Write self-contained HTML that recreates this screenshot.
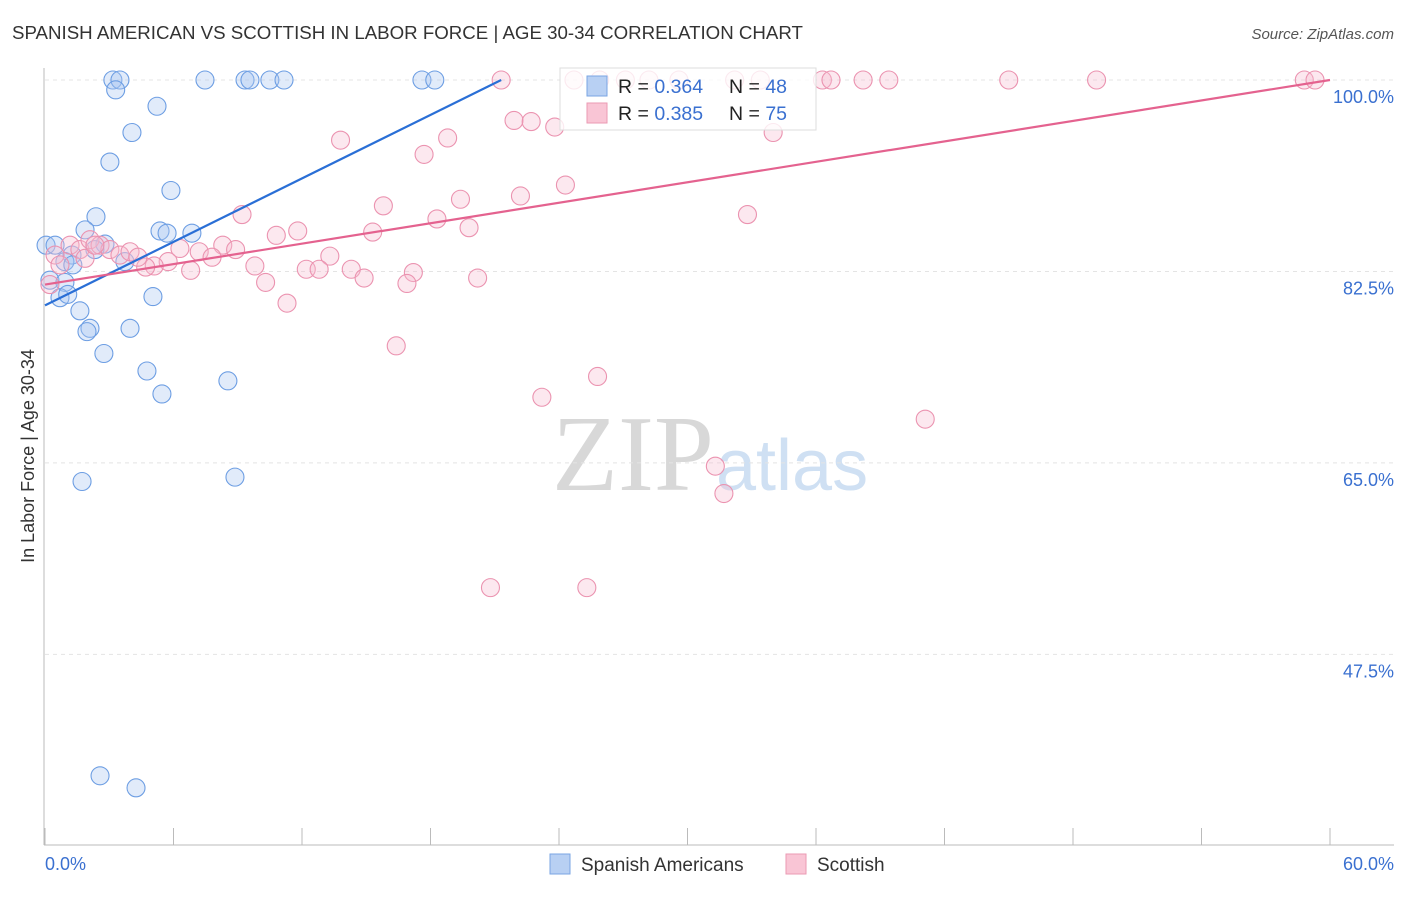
<!DOCTYPE html>
<html><head><meta charset="utf-8"><style>
body{margin:0;background:#fff;font-family:"Liberation Sans",sans-serif}
svg text{font-family:"Liberation Sans",sans-serif}
</style></head><body>
<svg id="c" width="1406" height="892">
<text x="12" y="39" font-size="18.7" fill="#333">SPANISH AMERICAN VS SCOTTISH IN LABOR FORCE | AGE 30-34 CORRELATION CHART</text>
<text x="1394" y="39" font-size="15" fill="#555" font-style="italic" text-anchor="end">Source: ZipAtlas.com</text>
<text x="714" y="490" font-size="108" fill="#d8d8d8" text-anchor="end" style="font-family:'Liberation Serif',serif">ZIP</text>
<text x="716" y="490" font-size="72" fill="#cfe0f3">atlas</text>
<text transform="translate(34,456) rotate(-90)" font-size="18" fill="#333" text-anchor="middle">In Labor Force | Age 30-34</text>
<g id="grid"></g><g id="axes"></g><g id="pts"></g><g id="lines"></g>
<g>
<rect x="560" y="68" width="256" height="62" fill="#fff" fill-opacity="0.8" stroke="#ddd"/>
<rect x="587" y="76" width="20" height="20" fill="#b8d0f3" stroke="#7aa5e3"/>
<rect x="587" y="103" width="20" height="20" fill="#f9c5d5" stroke="#eb9ab3"/>
<text x="618" y="93" font-size="19.5" fill="#222">R = <tspan fill="#3a70d0">0.364</tspan>   <tspan x="729">N = </tspan><tspan fill="#3a70d0">48</tspan></text>
<text x="618" y="120" font-size="19.5" fill="#222">R = <tspan fill="#3a70d0">0.385</tspan>   <tspan x="729">N = </tspan><tspan fill="#3a70d0">75</tspan></text>
</g>
<g>
<rect x="550" y="854" width="20" height="20" fill="#b8d0f3" stroke="#7aa5e3"/>
<text x="581" y="871" font-size="19" fill="#333">Spanish Americans</text>
<rect x="786" y="854" width="20" height="20" fill="#f9c5d5" stroke="#eb9ab3"/>
<text x="817" y="871" font-size="19" fill="#333">Scottish</text>
</g>
</svg>
<script>
const yTicks=[100,82.5,65,47.5];
const xTickLabels=["0.0%","60.0%"];
const blueX=[3.17,3.5,3.3,7.47,9.34,9.57,10.5,11.16,17.6,18.2,5.23,4.06,3.03,5.88,2.38,5.37,5.7,6.86,1.87,0.05,0.47,1.26,2.8,2.33,0.93,1.3,3.73,0.23,0.93,0.7,1.06,5.04,1.63,2.1,1.96,3.97,2.75,4.76,5.46,8.54,1.73,8.87,2.57,4.25];
const blueY=[100,100,99.1,100,100,100,100,100,100,100,97.6,95.2,92.5,89.9,87.5,86.2,86.0,86.0,86.3,84.9,84.9,84.0,85.0,84.5,83.4,83.1,83.4,81.7,81.5,80.1,80.4,80.2,78.9,77.3,77.0,77.3,75.0,73.4,71.3,72.5,63.3,63.7,36.4,35.3];
const pinkX=[21.3,24.7,25.9,27.1,28.2,29.6,32.2,33.4,36.3,36.7,38.2,39.4,45.0,49.1,58.8,59.3,21.9,22.7,23.8,13.8,18.8,17.7,34.0,24.3,19.4,22.2,15.8,9.2,32.8,18.3,19.8,11.8,10.8,15.3,8.3,8.9,7.2,6.3,13.3,7.8,5.75,5.1,4.7,6.8,9.8,12.2,12.8,14.3,14.9,17.2,16.9,20.2,10.3,11.3,16.4,25.8,23.2,41.1,31.3,31.7,20.8,25.3,0.47,0.7,1.17,1.63,2.1,2.57,3.03,3.5,3.97,4.34,1.87,0.23,2.33];
const pinkY=[100,100,100,100,100,100,100,100,100,100,100,100,100,100,100,100,96.3,96.2,95.7,94.5,94.7,93.2,95.2,90.4,89.1,89.4,88.5,87.7,87.7,87.3,86.5,86.2,85.8,86.1,84.9,84.5,84.3,84.6,83.9,83.8,83.4,83.0,82.9,82.6,83.0,82.7,82.7,82.7,81.9,82.4,81.4,81.9,81.5,79.6,75.7,72.9,71.0,69.0,64.7,62.2,53.6,53.6,84.0,83.1,84.9,84.5,85.4,84.9,84.5,84.0,84.3,83.8,83.7,81.3,84.9];
const blueTrend=[[0,79.4],[21.3,100]];
const pinkTrend=[[0,81.3],[60,100]];
const NS="http://www.w3.org/2000/svg";
const X=v=>45+v*1285/60, Y=v=>80+(100-v)*10.94;
function mk(t,a,p){const e=document.createElementNS(NS,t);for(const k in a)e.setAttribute(k,a[k]);document.getElementById(p).appendChild(e);return e;}
yTicks.forEach(t=>{
 const l=mk('line',{x1:45,x2:1394,y1:Y(t),y2:Y(t),stroke:'#e4e4e4','stroke-dasharray':'4,4'},'grid');
 
 
 const tx=mk('text',{x:1394,y:Y(t)+23,'font-size':18,fill:'#3a70d0','text-anchor':'end'},'grid');
 tx.textContent=t.toFixed(1)+'%';
 
 
});
const ax=mk('line',{x1:44,x2:44,y1:68,y2:845,stroke:'#bbb'},'axes');


const bx=mk('line',{x1:44,x2:1394,y1:845,y2:845,stroke:'#bbb'},'axes');


for(let i=0;i<=10;i++){
 const t=mk('line',{x1:X(i*6),x2:X(i*6),y1:828,y2:845,stroke:'#bbb'},'axes');
 
 
}
[[0,'start',45],[60,'end',1394]].forEach((d,i)=>{
 const t=mk('text',{x:d[2],y:870,'font-size':18,fill:'#3a70d0','text-anchor':d[1]},'axes');
 t.textContent=xTickLabels[i];
 
 
});
function pts(xs,ys,fill,stroke,name){
 xs.forEach((v,i)=>{
  const c=mk('circle',{cx:X(v),cy:Y(ys[i]),r:9,fill:fill,'fill-opacity':0.35,stroke:stroke,'stroke-width':1.1},'pts');
  
  
 });
}
pts(blueX,blueY,'#a9c6f0','#6d9ee3','spanish-american-point');
pts(pinkX,pinkY,'#f7bcd0','#eb93b0','scottish-point');
const bl=mk('line',{x1:X(blueTrend[0][0]),y1:Y(blueTrend[0][1]),x2:X(blueTrend[1][0]),y2:Y(blueTrend[1][1]),stroke:'#2a6fd6','stroke-width':2.2},'lines');


const pl=mk('line',{x1:X(pinkTrend[0][0]),y1:Y(pinkTrend[0][1]),x2:X(pinkTrend[1][0]),y2:Y(pinkTrend[1][1]),stroke:'#e4628f','stroke-width':2.2},'lines');


</script>
</body></html>
